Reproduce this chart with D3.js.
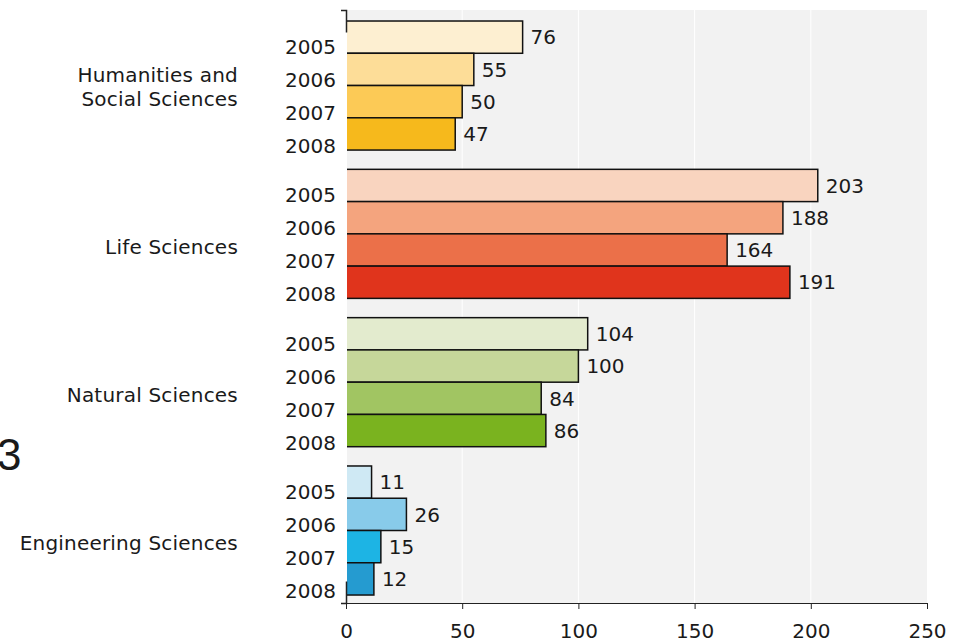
<!DOCTYPE html>
<html lang="en">
<head>
<meta charset="UTF-8" />
<script src="https://cdn.jsdelivr.net/npm/d3@7"></script>
<style>
  body { margin: 0; background: #fff; }
  text { font-family: "DejaVu Sans", Verdana, sans-serif; fill: #1a1a1a; }
</style>
</head>
<body>
<div id="chart"></div>
<script>
// data
const groups = ["Humanities and Social Sciences", "Life Sciences", "Natural Sciences", "Engineering Sciences"];
const groupLines = [["Humanities and", "Social Sciences"], ["Life Sciences"], ["Natural Sciences"], ["Engineering Sciences"]];
const years = ["2005", "2006", "2007", "2008"];
const values = [
  [76, 55, 50, 47],
  [203, 188, 164, 191],
  [104, 100, 84, 86],
  [11, 26, 15, 12]
];
const colors = [
  ["#fdefd1", "#fddd98", "#fcca56", "#f6b91c"],
  ["#f9d4bf", "#f4a47e", "#eb7049", "#e0341c"],
  ["#e3ebce", "#c6d79a", "#a1c562", "#7ab31f"],
  ["#cfe9f4", "#88cbea", "#1db4e4", "#259bd0"]
];
const xTicks = [0, 50, 100, 150, 200, 250];

const W = 954, H = 638;
const margin = { top: 10, right: 27, bottom: 35, left: 346 };
const width = W - margin.left - margin.right,
      height = H - margin.top - margin.bottom;
const fs = "20px";

const svg = d3.select("#chart").append("svg")
  .attr("width", W).attr("height", H);

// stray "3" on the left edge
svg.append("text")
  .attr("x", -3).attr("y", 470)
  .style("font-family", "'Liberation Sans', Arial, sans-serif")
  .style("font-size", "44px")
  .text("3");

const g = svg.append("g").attr("transform", `translate(${margin.left},${margin.top})`);

const x = d3.scaleLinear().domain([0, 250]).range([0, width]);
const y0 = d3.scaleBand().domain(groups).range([0, height])
  .paddingInner(0.13).paddingOuter(0.064).align(0.58);
const y1 = d3.scaleBand().domain(years).range([0, y0.bandwidth()]);

// background + grid
g.append("rect").attr("x", 1).attr("y", 0)
  .attr("width", width - 1).attr("height", height).attr("fill", "#f2f2f2");
g.selectAll("line.grid").data(xTicks.slice(1, -1)).join("line")
  .attr("class", "grid")
  .attr("x1", d => x(d)).attr("x2", d => x(d))
  .attr("y1", 0).attr("y2", height)
  .attr("stroke", "#fff").attr("stroke-width", 1);

svg.append("defs").append("clipPath").attr("id", "clip")
  .append("rect").attr("x", 1).attr("y", -5).attr("width", width + 5).attr("height", height + 10);

const grp = g.selectAll("g.group").data(groups).join("g")
  .attr("class", "group")
  .attr("transform", d => `translate(0,${y0(d)})`);

grp.append("g").attr("clip-path", "url(#clip)")
  .selectAll("rect").data((d, i) => values[i].map((v, j) => ({ v, j, i })))
  .join("rect")
  .attr("x", x(0) - 2)
  .attr("y", d => y1(years[d.j]))
  .attr("width", d => x(d.v) - x(0) + 2)
  .attr("height", y1.bandwidth())
  .attr("fill", d => colors[d.i][d.j])
  .attr("stroke", "#111")
  .attr("stroke-width", 1.5);

// value labels
grp.selectAll("text.val").data((d, i) => values[i].map((v, j) => ({ v, j })))
  .join("text")
  .attr("class", "val")
  .attr("x", d => x(d.v) + 8)
  .attr("y", d => y1(years[d.j]) + y1.bandwidth() / 2)
  .attr("dy", "0.36em")
  .style("font-size", fs)
  .text(d => d.v);

// year labels
grp.selectAll("text.year").data(years).join("text")
  .attr("class", "year")
  .attr("x", -10)
  .attr("y", (d, j) => y1(d) + y1.bandwidth() / 2 + 17 + j * 0.7)
  .attr("text-anchor", "end")
  .style("font-size", fs)
  .text(d => d);

// group labels
grp.each(function (d, i) {
  const lines = groupLines[i];
  const c = y0.bandwidth() / 2 + 20;
  d3.select(this).selectAll("text.grp").data(lines).join("text")
    .attr("class", "grp")
    .attr("x", -108)
    .attr("y", (l, k) => c + (k - (lines.length - 1)) * 24)
    .attr("text-anchor", "end")
    .style("font-size", fs)
    .style("letter-spacing", "0.2px")
    .text(l => l);
});

// y axis: only its ends show
const yAxis = g.append("g").call(d3.axisLeft(y0).tickValues([]).tickSizeOuter(5));
yAxis.select(".domain")
  .attr("stroke", "#222")
  .attr("stroke-width", 1.5)
  .attr("stroke-dasharray", `${5.5 + 22},${height - 44},${22 + 5.5}`);

// x axis
const xAxis = g.append("g")
  .attr("transform", `translate(0,${height})`)
  .call(d3.axisBottom(x).tickValues(xTicks).tickSize(6).tickPadding(15).tickSizeOuter(0));
xAxis.select(".domain").attr("stroke", "#222");
xAxis.selectAll(".tick line").attr("stroke", "#222");
xAxis.selectAll("text")
  .style("font-family", "'DejaVu Sans', Verdana, sans-serif")
  .style("font-size", fs)
  .attr("fill", "#1a1a1a");
</script>
</body>
</html>
